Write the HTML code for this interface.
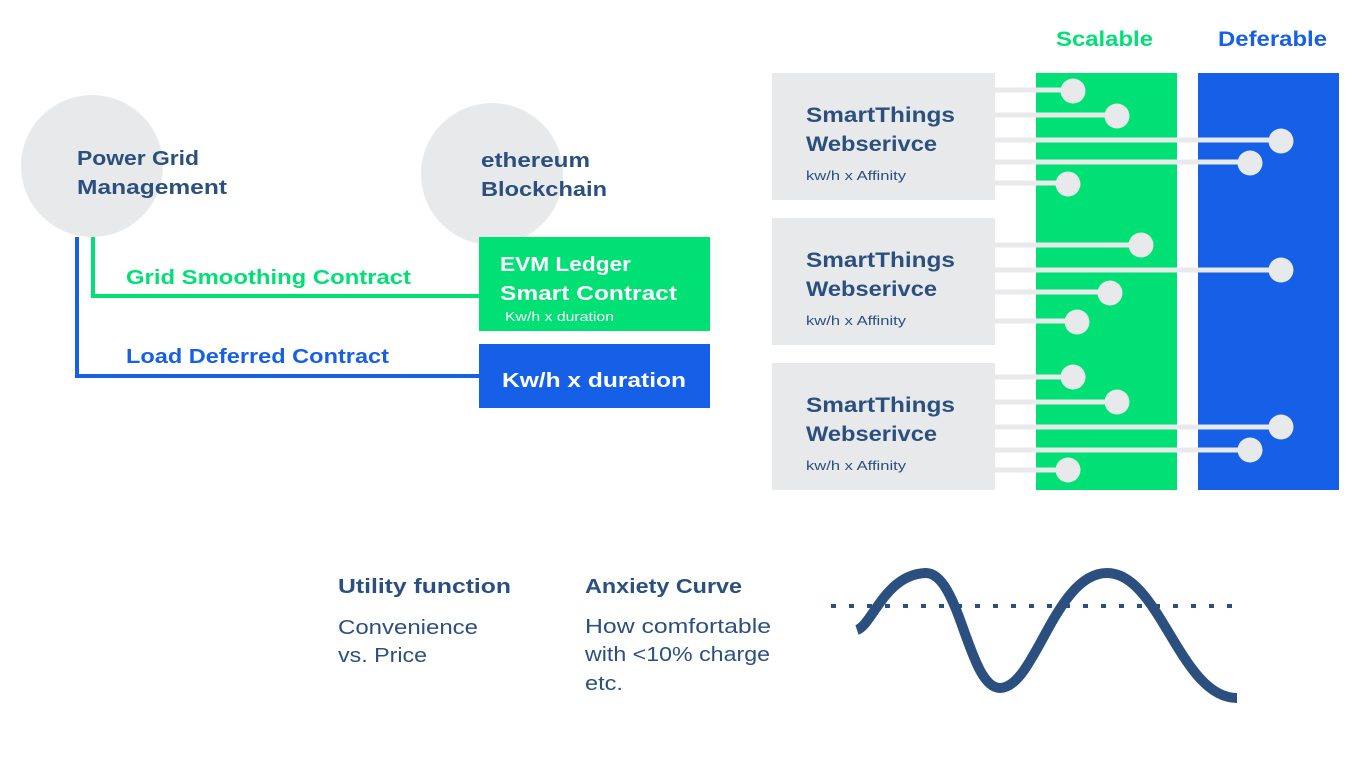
<!DOCTYPE html>
<html><head><meta charset="utf-8"><style>
html,body{margin:0;padding:0;background:#fff;}
svg{display:block;}
text{font-family:"Liberation Sans",sans-serif;}
</style></head><body>
<svg width="1366" height="768" viewBox="0 0 1366 768" xmlns="http://www.w3.org/2000/svg">
<g fill="#e8e9eb">
<circle cx="92" cy="166" r="71"/>
<circle cx="492" cy="174" r="71"/>
</g>
<g font-weight="bold" font-size="20" fill="#2b5080" lengthAdjust="spacingAndGlyphs">
<text x="77" y="165" textLength="122" lengthAdjust="spacingAndGlyphs">Power Grid</text>
<text x="77" y="194" textLength="150" lengthAdjust="spacingAndGlyphs">Management</text>
<text x="481" y="167" textLength="109" lengthAdjust="spacingAndGlyphs">ethereum</text>
<text x="481" y="196" textLength="126" lengthAdjust="spacingAndGlyphs">Blockchain</text>
</g>
<polyline points="93,237 93,296 480,296" fill="none" stroke="#00e074" stroke-width="4"/>
<polyline points="77,237 77,376 480,376" fill="none" stroke="#1560e6" stroke-width="4"/>
<text x="126" y="284" font-weight="bold" font-size="20" fill="#00e074" textLength="285" lengthAdjust="spacingAndGlyphs">Grid Smoothing Contract</text>
<text x="126" y="363" font-weight="bold" font-size="20" fill="#1560e6" textLength="263" lengthAdjust="spacingAndGlyphs">Load Deferred Contract</text>
<rect x="479" y="237" width="231" height="94" fill="#00e074"/>
<rect x="479" y="344" width="231" height="64" fill="#1560e6"/>
<g fill="#fff" font-weight="bold" font-size="20">
<text x="500" y="271" textLength="131" lengthAdjust="spacingAndGlyphs">EVM Ledger</text>
<text x="500" y="300" textLength="177" lengthAdjust="spacingAndGlyphs">Smart Contract</text>
<text x="502" y="387" textLength="184" lengthAdjust="spacingAndGlyphs">Kw/h x duration</text>
</g>
<text x="505" y="321" fill="#fff" font-size="13" textLength="109" lengthAdjust="spacingAndGlyphs">Kw/h x duration</text>

<rect x="1036" y="73" width="141" height="417" fill="#00e074"/>
<rect x="1198" y="73" width="141" height="417" fill="#1560e6"/>
<text x="1056" y="46" font-weight="bold" font-size="21" fill="#00e074" textLength="97" lengthAdjust="spacingAndGlyphs">Scalable</text>
<text x="1218" y="46" font-weight="bold" font-size="21" fill="#1560e6" textLength="109" lengthAdjust="spacingAndGlyphs">Deferable</text>

<g fill="#e8e9eb">
<rect x="772" y="73" width="223" height="127"/>
<rect x="772" y="218" width="223" height="127"/>
<rect x="772" y="363" width="223" height="127"/>
</g>
<g stroke="#e8e9eb" stroke-width="5">
<line x1="995" y1="90" x2="1073" y2="90"/><line x1="995" y1="115" x2="1117" y2="115"/><line x1="995" y1="140" x2="1281" y2="140"/><line x1="995" y1="162" x2="1250" y2="162"/><line x1="995" y1="183" x2="1068" y2="183"/>
<line x1="995" y1="245" x2="1141" y2="245"/><line x1="995" y1="270" x2="1281" y2="270"/><line x1="995" y1="292" x2="1110" y2="292"/><line x1="995" y1="321" x2="1077" y2="321"/>
<line x1="995" y1="377" x2="1073" y2="377"/><line x1="995" y1="402" x2="1117" y2="402"/><line x1="995" y1="427" x2="1281" y2="427"/><line x1="995" y1="450" x2="1250" y2="450"/><line x1="995" y1="470" x2="1068" y2="470"/>
</g>
<g fill="#e8e9eb">
<circle cx="1073" cy="91" r="12.5"/><circle cx="1117" cy="116" r="12.5"/><circle cx="1281" cy="141" r="12.5"/><circle cx="1250" cy="163" r="12.5"/><circle cx="1068" cy="184" r="12.5"/>
<circle cx="1141" cy="245" r="12.5"/><circle cx="1281" cy="270" r="12.5"/><circle cx="1110" cy="293" r="12.5"/><circle cx="1077" cy="322" r="12.5"/>
<circle cx="1073" cy="377" r="12.5"/><circle cx="1117" cy="402" r="12.5"/><circle cx="1281" cy="427" r="12.5"/><circle cx="1250" cy="450" r="12.5"/><circle cx="1068" cy="470" r="12.5"/>
</g>
<g fill="#2b5080">
<text x="806" y="122" font-weight="bold" font-size="21" textLength="149" lengthAdjust="spacingAndGlyphs">SmartThings</text>
<text x="806" y="151" font-weight="bold" font-size="21" textLength="131" lengthAdjust="spacingAndGlyphs">Webserivce</text>
<text x="806" y="180" font-size="13" textLength="100" lengthAdjust="spacingAndGlyphs">kw/h x Affinity</text>
<text x="806" y="267" font-weight="bold" font-size="21" textLength="149" lengthAdjust="spacingAndGlyphs">SmartThings</text>
<text x="806" y="296" font-weight="bold" font-size="21" textLength="131" lengthAdjust="spacingAndGlyphs">Webserivce</text>
<text x="806" y="325" font-size="13" textLength="100" lengthAdjust="spacingAndGlyphs">kw/h x Affinity</text>
<text x="806" y="412" font-weight="bold" font-size="21" textLength="149" lengthAdjust="spacingAndGlyphs">SmartThings</text>
<text x="806" y="441" font-weight="bold" font-size="21" textLength="131" lengthAdjust="spacingAndGlyphs">Webserivce</text>
<text x="806" y="470" font-size="13" textLength="100" lengthAdjust="spacingAndGlyphs">kw/h x Affinity</text>
</g>

<g fill="#2b5080" font-size="20">
<text x="338" y="593" font-weight="bold" textLength="173" lengthAdjust="spacingAndGlyphs">Utility function</text>
<text x="338" y="634" textLength="140" lengthAdjust="spacingAndGlyphs">Convenience</text>
<text x="338" y="662" textLength="89" lengthAdjust="spacingAndGlyphs">vs. Price</text>
<text x="585" y="593" font-weight="bold" textLength="157" lengthAdjust="spacingAndGlyphs">Anxiety Curve</text>
<text x="585" y="633" textLength="186" lengthAdjust="spacingAndGlyphs">How comfortable</text>
<text x="585" y="661" textLength="185" lengthAdjust="spacingAndGlyphs">with &lt;10% charge</text>
<text x="585" y="690" textLength="38" lengthAdjust="spacingAndGlyphs">etc.</text>
</g>
<line x1="831" y1="606" x2="1232" y2="606" stroke="#2b5080" stroke-width="4" stroke-dasharray="5,13"/>
<path d="M857,630 C872,625 885,575 925,573 C960,571 968,688 1000,688 C1035,688 1055,573 1107,573 C1160,573 1180,698 1237,698" fill="none" stroke="#2b5080" stroke-width="10"/>
</svg>
</body></html>
